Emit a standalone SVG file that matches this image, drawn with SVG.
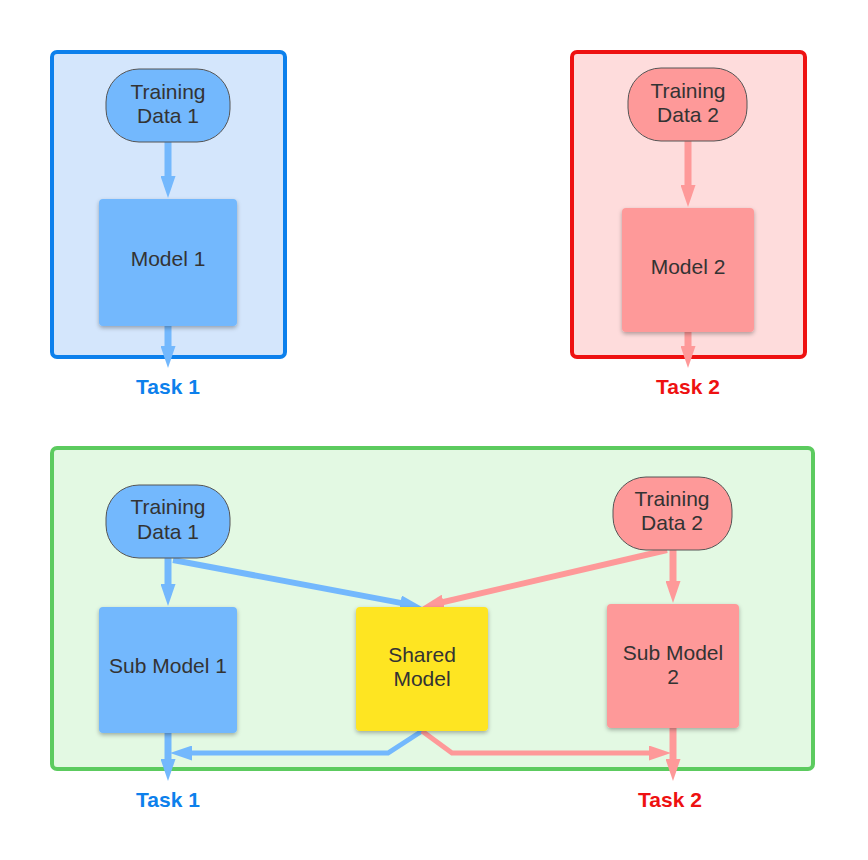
<svg xmlns="http://www.w3.org/2000/svg" width="868" height="860" viewBox="0 0 868 860">
<defs>
<style>
.t{font-family:"Liberation Sans",Arial,sans-serif;font-size:21px;fill:#333333;text-anchor:middle}
.task{font-family:"Liberation Sans",Arial,sans-serif;font-size:21px;font-weight:bold;text-anchor:middle}
.pill{stroke:#555555;stroke-width:1}
.blue{fill:#73b8fd}
.red{fill:#fe9999}
.yel{fill:#fee522}
.box{filter:url(#sh)}
.cb{fill:none;stroke:#73b8fd;stroke-linejoin:miter}
.cr{fill:none;stroke:#fe9999;stroke-linejoin:miter}
</style>
<filter id="sh" x="-20%" y="-20%" width="140%" height="140%">
<feDropShadow dx="0" dy="2" stdDeviation="2" flood-color="#000" flood-opacity="0.3"/>
</filter>
<marker id="ab" markerUnits="userSpaceOnUse" markerWidth="22" markerHeight="15" refX="11" refY="7.5" orient="auto" viewBox="0 0 22 15">
<path d="M0,0 L22,7.5 L0,15 z" fill="#73b8fd"/>
</marker>
<marker id="ar" markerUnits="userSpaceOnUse" markerWidth="22" markerHeight="15" refX="11" refY="7.5" orient="auto" viewBox="0 0 22 15">
<path d="M0,0 L22,7.5 L0,15 z" fill="#fe9999"/>
</marker>
</defs>
<rect width="868" height="860" fill="#ffffff"/>
<g id="container1">
<rect x="52" y="52" width="233" height="305" rx="5" fill="#d4e6fc" stroke="#0c80ec" stroke-width="4"/>
</g>
<g id="container2">
<rect x="572" y="52" width="233" height="305" rx="5" fill="#fedcdc" stroke="#ee1111" stroke-width="4"/>
</g>
<g id="container3">
<rect x="52" y="448" width="761" height="321" rx="5" fill="#e3f9e3" stroke="#5ccb5f" stroke-width="4"/>
</g>
<g id="connectors">
<path class="cb" stroke-width="7" d="M168,142 L168,187" marker-end="url(#ab)"/>
<path class="cb" stroke-width="7" d="M168,326 L168,357" marker-end="url(#ab)"/>
<path class="cr" stroke-width="7" d="M688,141 L688,196" marker-end="url(#ar)"/>
<path class="cr" stroke-width="7" d="M688,332 L688,357" marker-end="url(#ar)"/>
<path class="cb" stroke-width="7" d="M168,558 L168,595" marker-end="url(#ab)"/>
<path class="cb" stroke-width="6" d="M173,560 L411.2,604.9" marker-end="url(#ab)"/>
<path class="cr" stroke-width="6" d="M667,550 L432.7,604.5" marker-end="url(#ar)"/>
<path class="cr" stroke-width="7" d="M673,550 L673,592" marker-end="url(#ar)"/>
<path class="cb" stroke-width="7" d="M168,733 L168,770" marker-end="url(#ab)"/>
<path class="cr" stroke-width="7" d="M673,728 L673,770" marker-end="url(#ar)"/>
<path class="cb" stroke-width="5" d="M422,731 L388,753 L181,753" marker-end="url(#ab)"/>
<path class="cr" stroke-width="5" d="M422,731 L452,753 L660,753" marker-end="url(#ar)"/>
</g>
<g id="td1-top">
<rect class="blue pill" x="106" y="69" width="124" height="73" rx="33" ry="33"/>
<text class="t" x="168" y="99">Training</text>
<text class="t" x="168" y="123">Data 1</text>
</g>
<g id="model1">
<rect class="blue box" x="99" y="199" width="138" height="127" rx="4"/>
<text class="t" x="168" y="266">Model 1</text>
</g>
<g id="task1-top"><text class="task" x="168" y="394" fill="#0c80ec">Task 1</text></g>
<g id="td2-top">
<rect class="red pill" x="628" y="68" width="119" height="73" rx="33" ry="33"/>
<text class="t" x="688" y="98">Training</text>
<text class="t" x="688" y="122">Data 2</text>
</g>
<g id="model2">
<rect class="red box" x="622" y="208" width="132" height="124" rx="4"/>
<text class="t" x="688" y="274">Model 2</text>
</g>
<g id="task2-top"><text class="task" x="688" y="394" fill="#ee1111">Task 2</text></g>
<g id="td1-bottom">
<rect class="blue pill" x="106" y="485" width="124" height="73" rx="33" ry="33"/>
<text class="t" x="168" y="514">Training</text>
<text class="t" x="168" y="539">Data 1</text>
</g>
<g id="submodel1">
<rect class="blue box" x="99" y="607" width="138" height="126" rx="4"/>
<text class="t" x="168" y="673">Sub Model 1</text>
</g>
<g id="shared">
<rect class="yel box" x="356" y="607" width="132" height="124" rx="4"/>
<text class="t" x="422" y="662">Shared</text>
<text class="t" x="422" y="686">Model</text>
</g>
<g id="td2-bottom">
<rect class="red pill" x="613" y="477" width="119" height="73" rx="33" ry="33"/>
<text class="t" x="672" y="506">Training</text>
<text class="t" x="672" y="530">Data 2</text>
</g>
<g id="submodel2">
<rect class="red box" x="607" y="604" width="132" height="124" rx="4"/>
<text class="t" x="673" y="660">Sub Model</text>
<text class="t" x="673" y="684">2</text>
</g>
<g id="task1-bottom"><text class="task" x="168" y="807" fill="#0c80ec">Task 1</text></g>
<g id="task2-bottom"><text class="task" x="670" y="807" fill="#ee1111">Task 2</text></g>
</svg>
